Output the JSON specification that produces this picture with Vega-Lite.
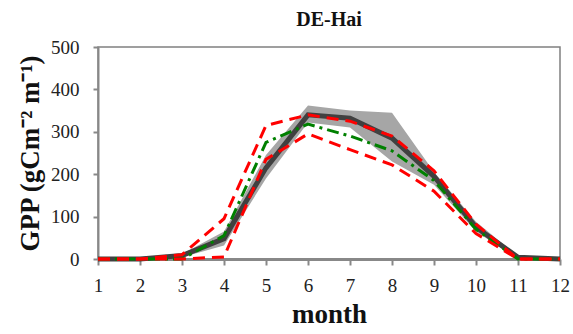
{
  "$schema": "https://vega.github.io/schema/vega-lite/v6.json",
  "autosize": "none",
  "width": 462,
  "height": 212,
  "padding": {"left": 98, "top": 47, "right": 13, "bottom": 75},
  "background": "white",
  "title": {"text": "DE-Hai", "font": "Liberation Serif", "fontSize": 20, "fontWeight": "bold", "color": "#111111", "offset": 8, "anchor": "middle"},
  "config": {
    "view": {"stroke": "#808080", "strokeWidth": 1.5},
    "axis": {"grid": false, "labelFont": "Liberation Serif", "titleFont": "Liberation Serif", "labelColor": "#222222", "titleColor": "#111111", "domainColor": "#888888", "tickColor": "#888888"}
  },
  "datasets": {
    "lines": [
      {"month": 1, "series": "obs", "gpp": 0}, {"month": 2, "series": "obs", "gpp": 0}, {"month": 3, "series": "obs", "gpp": 8}, {"month": 4, "series": "obs", "gpp": 48}, {"month": 5, "series": "obs", "gpp": 215}, {"month": 6, "series": "obs", "gpp": 340}, {"month": 7, "series": "obs", "gpp": 332}, {"month": 8, "series": "obs", "gpp": 285}, {"month": 9, "series": "obs", "gpp": 195}, {"month": 10, "series": "obs", "gpp": 75}, {"month": 11, "series": "obs", "gpp": 4}, {"month": 12, "series": "obs", "gpp": 0},
      {"month": 1, "series": "modelG", "gpp": 0}, {"month": 2, "series": "modelG", "gpp": 0}, {"month": 3, "series": "modelG", "gpp": 0}, {"month": 4, "series": "modelG", "gpp": 55}, {"month": 5, "series": "modelG", "gpp": 275}, {"month": 6, "series": "modelG", "gpp": 318}, {"month": 7, "series": "modelG", "gpp": 290}, {"month": 8, "series": "modelG", "gpp": 255}, {"month": 9, "series": "modelG", "gpp": 185}, {"month": 10, "series": "modelG", "gpp": 70}, {"month": 11, "series": "modelG", "gpp": 0}, {"month": 12, "series": "modelG", "gpp": 0},
      {"month": 1, "series": "modelR1", "gpp": 0}, {"month": 2, "series": "modelR1", "gpp": 0}, {"month": 3, "series": "modelR1", "gpp": 10}, {"month": 4, "series": "modelR1", "gpp": 95}, {"month": 5, "series": "modelR1", "gpp": 315}, {"month": 6, "series": "modelR1", "gpp": 340}, {"month": 7, "series": "modelR1", "gpp": 325}, {"month": 8, "series": "modelR1", "gpp": 290}, {"month": 9, "series": "modelR1", "gpp": 208}, {"month": 10, "series": "modelR1", "gpp": 82}, {"month": 11, "series": "modelR1", "gpp": 0}, {"month": 12, "series": "modelR1", "gpp": 0},
      {"month": 1, "series": "modelR2", "gpp": 0}, {"month": 2, "series": "modelR2", "gpp": 0}, {"month": 3, "series": "modelR2", "gpp": 0}, {"month": 4, "series": "modelR2", "gpp": 5}, {"month": 5, "series": "modelR2", "gpp": 235}, {"month": 6, "series": "modelR2", "gpp": 295}, {"month": 7, "series": "modelR2", "gpp": 258}, {"month": 8, "series": "modelR2", "gpp": 222}, {"month": 9, "series": "modelR2", "gpp": 160}, {"month": 10, "series": "modelR2", "gpp": 60}, {"month": 11, "series": "modelR2", "gpp": 0}, {"month": 12, "series": "modelR2", "gpp": 0}
    ],
    "band": [
      {"month": 1, "lo": 0, "hi": 1}, {"month": 2, "lo": 0, "hi": 2}, {"month": 3, "lo": 4, "hi": 12}, {"month": 4, "lo": 32, "hi": 65}, {"month": 5, "lo": 190, "hi": 245}, {"month": 6, "lo": 322, "hi": 362}, {"month": 7, "lo": 310, "hi": 350}, {"month": 8, "lo": 230, "hi": 345}, {"month": 9, "lo": 175, "hi": 205}, {"month": 10, "lo": 65, "hi": 88}, {"month": 11, "lo": 0, "hi": 6}, {"month": 12, "lo": 0, "hi": 1}
    ]
  },
  "layer": [
    {
      "data": {"name": "band"},
      "mark": {"type": "area", "color": "#a6a6a6", "opacity": 1},
      "encoding": {
        "x": {"field": "month", "type": "quantitative", "scale": {"domain": [1, 12], "nice": false},
          "axis": {"title": "month", "titleFontSize": 27, "titleFontWeight": "bold", "titlePadding": 6, "values": [1,2,3,4,5,6,7,8,9,10,11,12], "labelFontSize": 19, "labelPadding": 11, "domainWidth": 3, "tickWidth": 2, "tickSize": 6, "labelFlush": false}},
        "y": {"field": "lo", "type": "quantitative", "scale": {"domain": [0, 500], "nice": false},
          "axis": {"title": "GPP (gCm⁻² m⁻¹)", "titleFontSize": 27, "titleFontWeight": "bold", "titlePadding": 6, "values": [0,100,200,300,400,500], "labelFontSize": 19, "labelPadding": 14, "domainWidth": 2, "tickWidth": 2, "tickSize": 5}},
        "y2": {"field": "hi"}
      }
    },
    {
      "data": {"name": "lines"},
      "transform": [{"filter": "datum.series == 'obs'"}],
      "mark": {"type": "line", "color": "#404040", "strokeWidth": 5},
      "encoding": {
        "x": {"field": "month", "type": "quantitative"},
        "y": {"field": "gpp", "type": "quantitative"}
      }
    },
    {
      "data": {"name": "lines"},
      "transform": [{"filter": "datum.series == 'modelG'"}],
      "mark": {"type": "line", "color": "#008000", "strokeWidth": 3, "strokeDash": [12, 5, 3, 5]},
      "encoding": {
        "x": {"field": "month", "type": "quantitative"},
        "y": {"field": "gpp", "type": "quantitative"}
      }
    },
    {
      "data": {"name": "lines"},
      "transform": [{"filter": "datum.series == 'modelR1' || datum.series == 'modelR2'"}],
      "mark": {"type": "line", "color": "#ff0000", "strokeWidth": 3, "strokeDash": [12, 7]},
      "encoding": {
        "x": {"field": "month", "type": "quantitative"},
        "y": {"field": "gpp", "type": "quantitative"},
        "detail": {"field": "series"}
      }
    },
    {
      "mark": {"type": "rule", "color": "#000000", "strokeWidth": 1.5},
      "encoding": {"y": {"datum": 500}}
    }
  ]
}
